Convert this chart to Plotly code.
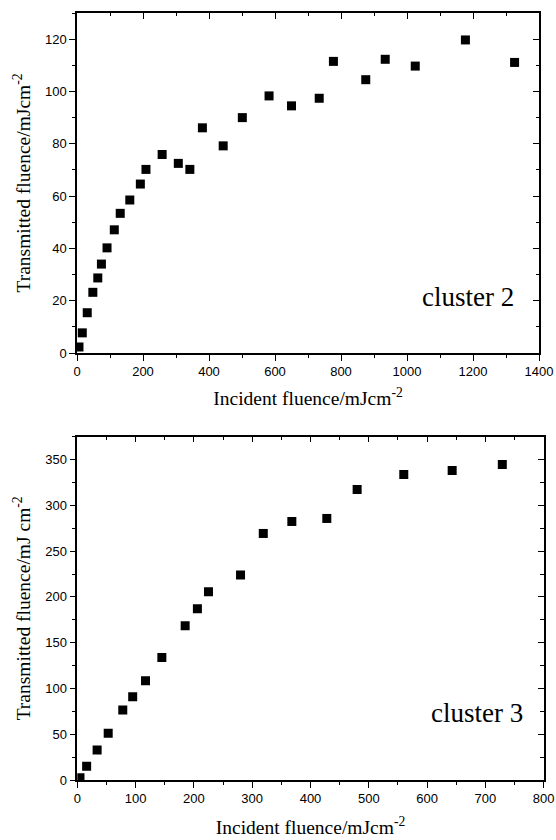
import plotly.graph_objects as go

# ---- data: cluster 2 ----
c2_incident = [6, 16, 31, 48, 63, 74, 91, 113, 131, 160, 192, 209, 258, 307, 342, 380,
               443, 501, 582, 650, 734, 777, 875, 934, 1025, 1177, 1326]
c2_transmitted = [2.3, 7.7, 15.4, 23.2, 28.7, 34.0, 40.2, 47.1, 53.4, 58.5, 64.6, 70.2,
                  75.9, 72.5, 70.2, 86.1, 79.2, 90.0, 98.3, 94.5, 97.4, 111.5, 104.5,
                  112.3, 109.7, 119.7, 111.1]

# ---- data: cluster 3 ----
c3_incident = [4.6, 16, 34, 53, 78, 95, 117, 145, 185, 206, 225, 280, 319, 368, 428,
               480, 560, 643, 729]
c3_transmitted = [2.5, 14.9, 32.7, 51.0, 76.4, 90.9, 108.4, 133.9, 168.5, 187.0, 205.6,
                  223.8, 269.3, 282.4, 285.7, 317.3, 333.7, 338.1, 344.6]

panel_labels = ["cluster 2", "cluster 3"]
x_titles = ["Incident fluence/mJcm<sup>-2</sup>", "Incident fluence/mJcm<sup>-2</sup>"]
y_titles = ["Transmitted fluence/mJcm<sup>-2</sup>", "Transmitted fluence/mJ cm<sup>-2</sup>"]

W, H = 556, 840
SERIF = "Liberation Serif, Times New Roman, serif"
SANS = "Liberation Sans, Arial, sans-serif"
TITLE_SIZE = 19.5

fig = go.Figure()
marker = dict(symbol="square", size=9, color="black")
fig.add_trace(go.Scatter(x=c2_incident, y=c2_transmitted, mode="markers", marker=marker,
                         xaxis="x", yaxis="y", showlegend=False))
fig.add_trace(go.Scatter(x=c3_incident, y=c3_transmitted, mode="markers", marker=marker,
                         xaxis="x2", yaxis="y2", showlegend=False))
# empty traces to make mirror axes (inward ticks on top/right) render
fig.add_trace(go.Scatter(x=[None], y=[None], xaxis="x3", yaxis="y3", showlegend=False, hoverinfo="skip"))
fig.add_trace(go.Scatter(x=[None], y=[None], xaxis="x4", yaxis="y4", showlegend=False, hoverinfo="skip"))

# panel geometry (pixels)
p1 = dict(l=77, r=539, t=13, b=353)
p2 = dict(l=77.3, r=543.7, t=436.7, b=780)

def xdom(p):
    return [p["l"] / W, p["r"] / W]

def ydom(p):
    return [1 - p["b"] / H, 1 - p["t"] / H]

def main_x(p, rng, dtick, mdtick, title, standoff):
    return dict(domain=xdom(p), range=rng, showline=True, linecolor="black", linewidth=1.5,
                ticks="outside", ticklen=6, tickwidth=1.3, tickcolor="black", dtick=dtick, tick0=0,
                minor=dict(ticks="outside", ticklen=3.5, tickwidth=1.3, tickcolor="black", dtick=mdtick),
                showgrid=False, zeroline=False, tickfont=dict(family=SANS, size=13, color="black"),
                title=dict(text=title, font=dict(family=SERIF, size=TITLE_SIZE, color="black"), standoff=standoff),
                automargin=False, fixedrange=True)

def main_y(p, rng, dtick, mdtick, title, standoff):
    return dict(domain=ydom(p), range=rng, showline=True, linecolor="black", linewidth=1.5,
                ticks="outside", ticklen=6, tickwidth=1.3, tickcolor="black", dtick=dtick, tick0=0,
                minor=dict(ticks="outside", ticklen=3.5, tickwidth=1.3, tickcolor="black", dtick=mdtick),
                showgrid=False, zeroline=False, tickfont=dict(family=SANS, size=13, color="black"),
                title=dict(text=title, font=dict(family=SERIF, size=TITLE_SIZE, color="black"), standoff=standoff),
                automargin=False, fixedrange=True)

def mirror_x(base, anchor, rng, dtick, mdtick):
    return dict(overlaying=base, anchor=anchor, side="top", range=rng, showline=True,
                linecolor="black", linewidth=1.5, ticks="inside", ticklen=6, tickwidth=1.3,
                tickcolor="black", dtick=dtick, tick0=0,
                minor=dict(ticks="inside", ticklen=3.5, tickwidth=1.3, tickcolor="black", dtick=mdtick),
                showticklabels=False, showgrid=False, zeroline=False, fixedrange=True)

def mirror_y(base, anchor, rng, dtick, mdtick):
    return dict(overlaying=base, anchor=anchor, side="right", range=rng, showline=True,
                linecolor="black", linewidth=1.5, ticks="inside", ticklen=6, tickwidth=1.3,
                tickcolor="black", dtick=dtick, tick0=0,
                minor=dict(ticks="inside", ticklen=3.5, tickwidth=1.3, tickcolor="black", dtick=mdtick),
                showticklabels=False, showgrid=False, zeroline=False, fixedrange=True)

x1r, y1r = [0, 1400], [0, 130]
x2r, y2r = [0, 800], [0, 375]

fig.update_layout(
    width=W, height=H, margin=dict(l=0, r=0, t=0, b=0),
    paper_bgcolor="white", plot_bgcolor="white", showlegend=False,
    xaxis=dict(**main_x(p1, x1r, 200, 100, x_titles[0], 13), anchor="y"),
    yaxis=dict(**main_y(p1, y1r, 20, 10, y_titles[0], 9), anchor="x"),
    xaxis2=dict(**main_x(p2, x2r, 100, 50, x_titles[1], 15), anchor="y2"),
    yaxis2=dict(**main_y(p2, y2r, 50, 25, y_titles[1], 9), anchor="x2"),
    xaxis3=mirror_x("x", "y3", x1r, 200, 100),
    yaxis3=mirror_y("y", "x3", y1r, 20, 10),
    xaxis4=mirror_x("x2", "y4", x2r, 100, 50),
    yaxis4=mirror_y("y2", "x4", y2r, 50, 25),
    annotations=[
        dict(text=panel_labels[0], xref="x domain", yref="y domain", x=0.95, y=0.165,
             xanchor="right", yanchor="middle", showarrow=False,
             font=dict(family=SERIF, size=27, color="black")),
        dict(text=panel_labels[1], xref="x2 domain", yref="y2 domain", x=0.96, y=0.196,
             xanchor="right", yanchor="middle", showarrow=False,
             font=dict(family=SERIF, size=27, color="black")),
    ],
)

fig.write_html("out.html")
